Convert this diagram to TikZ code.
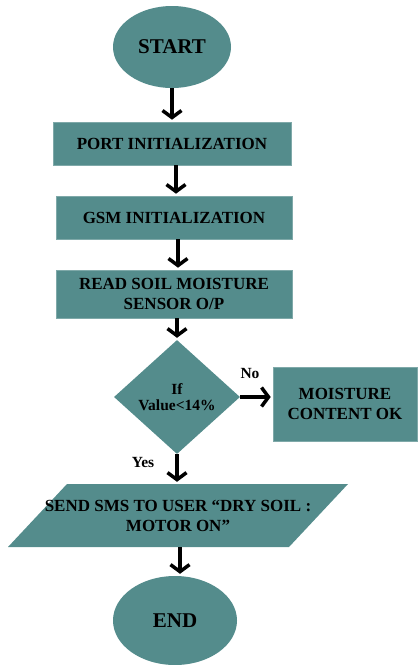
\documentclass[tikz,border=0pt]{standalone}
\usepackage{fontspec}
\setmainfont{Liberation Serif}
\usepackage{tikz}
\usetikzlibrary{arrows.meta}
\usetikzlibrary{shapes.geometric}
\definecolor{tealbox}{RGB}{84,140,140}
\tikzset{
  blk/.style={rectangle, fill=tealbox, draw=tealbox!75!white, line width=0.6pt, inner sep=0pt, align=center, font=\fontsize{17}{20}\selectfont\bfseries},
  term/.style={ellipse, fill=tealbox, inner sep=0pt, font=\fontsize{21}{24}\selectfont\bfseries},
  dec/.style={diamond, fill=tealbox, inner sep=0pt, align=center, font=\fontsize{15.5}{15.5}\selectfont\bfseries},
  iotext/.style={inner sep=0pt, align=center, font=\fontsize{17}{20}\selectfont\bfseries},
  flow/.style={line width=3.5pt, shorten >=2pt, -{Straight Barb[length=7pt,width=19pt]}},
  lbl/.style={font=\fontsize{15.5}{18}\selectfont\bfseries}
}
\begin{document}
\begin{tikzpicture}[x=1pt,y=-1pt]
    \useasboundingbox (0,0) rectangle (419,665);
    \node[term, minimum width=118pt, minimum height=82pt] (start) at (172,47) {START};
    \node[blk, minimum width=238pt, minimum height=43pt] (port) at (172,143.5) {PORT INITIALIZATION};
    \node[blk, minimum width=236pt, minimum height=43pt] (gsm) at (174,217.5) {GSM INITIALIZATION};
    \node[blk, minimum width=236pt, minimum height=48pt] (read) at (174,294) {READ SOIL MOISTURE\\SENSOR O/P};
    \node[dec, minimum width=126pt, minimum height=114pt] (cond) at (177,397) {If\\Value<14\%};
    \node[blk, minimum width=144pt, minimum height=74pt] (ok) at (345,404) {MOISTURE\\CONTENT OK};
    % parallelogram for the output step
    \fill[tealbox] (67,484) -- (348,484) -- (289,547) -- (8,547) -- cycle;
    \node[iotext, minimum height=63pt] (sms) at (178,515.5) {SEND SMS TO USER \textquotedblleft DRY SOIL :\\MOTOR ON\textquotedblright};
    \node[term, minimum width=124pt, minimum height=89pt] (end) at (175,620.5) {END};
    \node[lbl] (no) at (250,373) {No};
    \node[lbl] (yes) at (143,462) {Yes};
    \path [flow] (start.south) edge (start.south |- port.north);
    \path [flow] (port.south -| 176,0) edge (gsm.north -| 176,0);
    \path [flow] (gsm.south -| 178,0) edge (read.north -| 178,0);
    \path [flow] (read.south -| cond.north) edge (cond.north);
    \path [flow] (cond.east) edge (cond.east -| ok.west);
    \path [flow] (cond.south) edge (cond.south |- sms.north);
    \path [flow] (sms.south -| 180,0) edge (end.north -| 180,0);
  \end{tikzpicture}
\end{document}
